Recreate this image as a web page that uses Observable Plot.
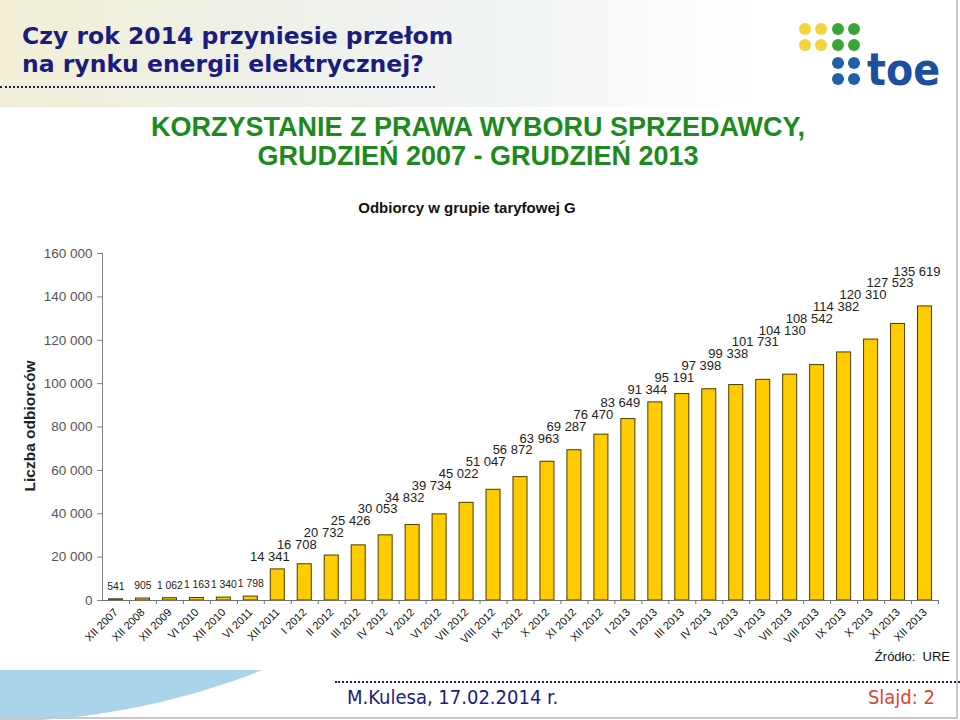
<!DOCTYPE html>
<html>
<head>
<meta charset="utf-8">
<script src="https://cdn.jsdelivr.net/npm/d3@7"></script>
<script src="https://cdn.jsdelivr.net/npm/@observablehq/plot@0.6"></script>
<style>
  html, body { margin: 0; padding: 0; }
  body { width: 960px; height: 720px; position: relative; overflow: hidden; background: #fff; font-family: "Liberation Sans", Arial, sans-serif; }
  .abs { position: absolute; }
  #topband { left: 0; top: 0; width: 960px; height: 107px;
    background: linear-gradient(to right, #f2efd6 0%, #eef0e6 25%, #f1f4f4 50%, #ffffff 80%); }
  #head { left: 22px; top: 22px; font-family: "DejaVu Sans", Verdana, sans-serif; font-weight: bold; font-size: 23.5px; line-height: 28px; color: #1b1b80; white-space: nowrap; }
  #dots1 { left: 0; top: 86px; width: 435px; border-top: 2px dotted #1b1b80; }
  #title { left: 0; top: 113px; width: 956px; text-align: center; font-family: "Liberation Sans", Arial, sans-serif; font-weight: bold; font-size: 27px; line-height: 29px; color: #1d8a1d; }
  #sub { left: 0; top: 199px; width: 934px; text-align: center; font-family: "Liberation Sans", Arial, sans-serif; font-weight: bold; font-size: 15px; color: #111; }
  #ylab { left: 30px; top: 426px; transform: translate(-50%, -50%) rotate(-90deg); font-family: "Liberation Sans", Arial, sans-serif; font-weight: bold; font-size: 15.5px; color: #222; white-space: nowrap; }
  #chart { left: 0; top: 240px; }
  #src { right: 10px; top: 649px; font-size: 13px; color: #111; }
  #dots2 { left: 335px; top: 681px; width: 625px; border-top: 2px dotted #1b1b80; }
  #author { left: 347px; top: 685px; font-family: "DejaVu Sans Condensed", "DejaVu Sans", sans-serif; font-size: 20px; color: #1b1b80; }
  #slide { right: 25px; top: 685px; font-family: "DejaVu Sans Condensed", "DejaVu Sans", sans-serif; font-size: 20px; color: #e0452b; }
  #border { left: 0; top: 0; width: 956px; height: 717px; border-right: 2px solid #c8c8c8; border-bottom: 2px solid #c8c8c8; pointer-events: none; }
</style>
</head>
<body>
<div id="topband" class="abs"></div>
<svg class="abs" style="left:0;top:640px" width="300" height="80">
  <path d="M0 30 L262 30 C200 55 120 75 40 80 L0 80 Z" fill="#a9d4ea"/>
</svg>
<div id="head" class="abs">Czy rok 2014 przyniesie przełom<br>na rynku energii elektrycznej?</div>
<div id="dots1" class="abs"></div>
<svg class="abs" style="left:780px;top:10px" width="180" height="90">
  <g>
    <circle cx="25" cy="19" r="6" fill="#f3d33a"/>
    <circle cx="41" cy="19" r="6" fill="#f3d33a"/>
    <circle cx="58" cy="19" r="6" fill="#3aa63a"/>
    <circle cx="74" cy="19" r="6" fill="#3aa63a"/>
    <circle cx="25" cy="35" r="6" fill="#f3d33a"/>
    <circle cx="41" cy="35" r="6" fill="#f3d33a"/>
    <circle cx="58" cy="35" r="6" fill="#3aa63a"/>
    <circle cx="74" cy="35" r="6" fill="#3aa63a"/>
    <circle cx="58" cy="53" r="6" fill="#1f5fab"/>
    <circle cx="74" cy="53" r="6" fill="#1f5fab"/>
    <circle cx="58" cy="69" r="6" fill="#1f5fab"/>
    <circle cx="74" cy="69" r="6" fill="#1f5fab"/>
    <text x="87" y="75" font-family="DejaVu Sans" font-weight="bold" font-size="44" fill="#1c4f9e" textLength="73" lengthAdjust="spacingAndGlyphs">toe</text>
  </g>
</svg>
<div id="title" class="abs">KORZYSTANIE Z PRAWA WYBORU SPRZEDAWCY,<br>GRUDZIEŃ 2007 - GRUDZIEŃ 2013</div>
<div id="sub" class="abs">Odbiorcy w grupie taryfowej G</div>
<div id="ylab" class="abs">Liczba odbiorców</div>
<div id="chart" class="abs"></div>
<div id="src" class="abs">Źródło:&nbsp; URE</div>
<div id="dots2" class="abs"></div>
<div id="author" class="abs">M.Kulesa, 17.02.2014 r.</div>
<div id="slide" class="abs">Slajd: 2</div>
<div id="border" class="abs"></div>

<script>
const categories = ["XII 2007","XII 2008","XII 2009","VI 2010","XII 2010","VI 2011","XII 2011",
  "I 2012","II 2012","III 2012","IV 2012","V 2012","VI 2012","VII 2012","VIII 2012","IX 2012","X 2012","XI 2012","XII 2012",
  "I 2013","II 2013","III 2013","IV 2013","V 2013","VI 2013","VII 2013","VIII 2013","IX 2013","X 2013","XI 2013","XII 2013"];
const values = [541, 905, 1062, 1163, 1340, 1798, 14341,
  16708, 20732, 25426, 30053, 34832, 39734, 45022, 51047, 56872, 63963, 69287, 76470,
  83649, 91344, 95191, 97398, 99338, 101731, 104130, 108542, 114382, 120310, 127523, 135619];
const yTicks = [0, 20000, 40000, 60000, 80000, 100000, 120000, 140000, 160000];
const yMax = 160000;

const W = 960, H = 420, mL = 102, mR = 22, mT = 13, mB = 60;
const fmt = d => d3.format(",")(d).replace(/,/g, " ");
const step = (W - mL - mR) / categories.length;

// label layout: labels sit above their bar; wide neighbours are stepped up so they do not collide
const unitsPerPx = yMax / (H - mT - mB);
const padPx = 13, gapPx = 11.8, bigFont = 13;
const emWidth = s => [...s].reduce((w, c) => w + (c === " " ? 0.278 : 0.556), 0);
const rows = values.map((v, i) => ({cat: categories[i], v, label: fmt(v), big: v >= 10000}));
rows.forEach((r, i) => {
  r.ly = r.v + padPx * unitsPerPx;
  const p = rows[i - 1];
  if (p && r.big && p.big) r.ly = Math.max(r.ly, p.ly + gapPx * unitsPerPx);
});
// the small labels share one baseline; shrink them together so they fit side by side
const small = rows.filter(r => !r.big);
const smallFont = Math.min(bigFont, d3.min(small, r => (step - 1) / emWidth(r.label)));

const chart = Plot.plot({
  width: W, height: H,
  marginLeft: mL, marginRight: mR, marginTop: mT, marginBottom: mB,
  style: {fontFamily: "'Liberation Sans', Arial, sans-serif", background: "transparent"},
  x: {domain: categories, paddingInner: 0.48, paddingOuter: 0.24, round: false, label: null},
  y: {domain: [0, yMax], label: null},
  marks: [
    Plot.frame({anchor: "left", stroke: "#808080"}),
    Plot.axisY({ticks: yTicks, tickFormat: fmt, tickSize: 5, tickPadding: 5, fontSize: 13.5, color: "#555", stroke: "#808080", label: null}),
    Plot.barY(rows, {x: "cat", y: "v", fill: "#ffcc00", stroke: "#4a3d00", strokeWidth: 1}),
    Plot.ruleY([0], {stroke: "#707070"}),
    Plot.axisX({tickSize: 4, text: null, dx: step / 2, stroke: "#707070", label: null}),
    Plot.axisX({tickSize: 0, tickRotate: -45, tickPadding: 10, fontSize: 11, color: "#111", label: null}),
    Plot.text(small, {x: "cat", y: "ly", text: "label", fontSize: smallFont, fill: "#222", lineAnchor: "middle"}),
    Plot.text(rows.filter(r => r.big), {x: "cat", y: "ly", text: "label", dx: -8, fontSize: bigFont, fill: "#222", lineAnchor: "middle"})
  ]
});
document.getElementById("chart").appendChild(chart);
</script>
</body>
</html>
